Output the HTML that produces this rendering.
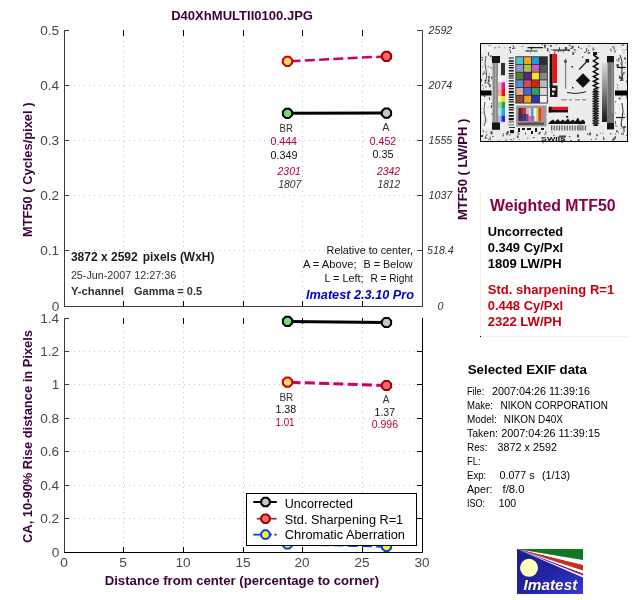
<!DOCTYPE html>
<html><head><meta charset="utf-8"><title>Imatest</title>
<style>
html,body{margin:0;padding:0;background:#fff;}
body{width:640px;height:600px;overflow:hidden;}
text{white-space:pre;}
svg{display:block;will-change:transform;font-family:"Liberation Sans",sans-serif;}
.ax{stroke:#3c3c3c;stroke-width:1;fill:none;shape-rendering:crispEdges;}
.bk{stroke:#000;stroke-width:1;fill:none;shape-rendering:crispEdges;}
.grid{stroke:#c4c4c4;stroke-width:1;stroke-dasharray:1 4;fill:none;shape-rendering:crispEdges;}
.tl{font-size:13.6px;fill:#484848;}
.rl{font-size:10.67px;fill:#303030;font-style:italic;text-anchor:middle;}
.pl{font-weight:bold;fill:#3d003d;}
</style></head><body>
<svg width="640" height="600" viewBox="0 0 640 600">
<rect width="640" height="600" fill="#fff"/>

<g class="grid">
<path d="M123.5 31V306" />
<path d="M123.5 322V552" />
<path d="M183.5 31V306" />
<path d="M183.5 322V552" />
<path d="M243.5 31V306" />
<path d="M243.5 322V552" />
<path d="M302.5 31V306" />
<path d="M302.5 322V552" />
<path d="M362.5 31V306" />
<path d="M362.5 322V552" />
<path d="M64 250.5H422" />
<path d="M64 195.5H422" />
<path d="M64 140.5H422" />
<path d="M64 85.5H422" />
<path d="M64 518.5H422" />
<path d="M64 485.5H422" />
<path d="M64 451.5H422" />
<path d="M64 418.5H422" />
<path d="M64 384.5H422" />
<path d="M64 351.5H422" />
</g>
<g class="ax">
<path d="M64.5 30V307 M64 306.5H423 M422.5 30V307"/>
<path d="M64 306.5H69 M417 306.5H423"/>
<path d="M64 250.5H69 M417 250.5H423"/>
<path d="M64 195.5H69 M417 195.5H423"/>
<path d="M64 140.5H69 M417 140.5H423"/>
<path d="M64 85.5H69 M417 85.5H423"/>
<path d="M64 30.5H69 M417 30.5H423"/>
</g>
<g class="bk">
<path d="M123.5 30V36 M123.5 301V307"/>
<path d="M183.5 30V36 M183.5 301V307"/>
<path d="M243.5 30V36 M243.5 301V307"/>
<path d="M302.5 30V36 M302.5 301V307"/>
<path d="M362.5 30V36 M362.5 301V307"/>
</g>
<g class="ax">
<path d="M64.5 318V553"/>
<path d="M64 552.5H69"/>
<path d="M64 518.5H69"/>
<path d="M64 485.5H69"/>
<path d="M64 451.5H69"/>
<path d="M64 418.5H69"/>
<path d="M64 384.5H69"/>
<path d="M64 351.5H69"/>
<path d="M64 318.5H69"/>
</g>
<g class="bk">
<path d="M64 552.5H423 M422.5 318V553"/>
<path d="M417 518.5H423"/>
<path d="M417 485.5H423"/>
<path d="M417 451.5H423"/>
<path d="M417 418.5H423"/>
<path d="M417 384.5H423"/>
<path d="M417 351.5H423"/>
<path d="M123.5 318V324 M123.5 547V553"/>
<path d="M183.5 318V324 M183.5 547V553"/>
<path d="M243.5 318V324 M243.5 547V553"/>
<path d="M302.5 318V324 M302.5 547V553"/>
<path d="M362.5 318V324 M362.5 547V553"/>
</g>
<g class="tl" text-anchor="end">
<text x="59.2" y="311.1">0</text>
<text x="59.2" y="255.1">0.1</text>
<text x="59.2" y="200.1">0.2</text>
<text x="59.2" y="145.1">0.3</text>
<text x="59.2" y="90.1">0.4</text>
<text x="59.2" y="35.1">0.5</text>
<text x="59.2" y="557.1">0</text>
<text x="59.2" y="523.1">0.2</text>
<text x="59.2" y="490.1">0.4</text>
<text x="59.2" y="456.1">0.6</text>
<text x="59.2" y="423.1">0.8</text>
<text x="59.2" y="389.1">1</text>
<text x="59.2" y="356.1">1.2</text>
<text x="59.2" y="323.1">1.4</text>
</g>
<g class="tl" text-anchor="middle">
<text x="64.0" y="567.4">0</text>
<text x="123.0" y="567.4">5</text>
<text x="183.0" y="567.4">10</text>
<text x="243.0" y="567.4">15</text>
<text x="302.0" y="567.4">20</text>
<text x="362.0" y="567.4">25</text>
<text x="422.0" y="567.4">30</text>
</g>
<g class="rl">
<text x="440.4" y="309.9">0</text>
<text x="440.4" y="253.9">518.4</text>
<text x="440.4" y="198.9">1037</text>
<text x="440.4" y="143.9">1555</text>
<text x="440.4" y="88.9">2074</text>
<text x="440.4" y="33.9">2592</text>
</g>
<g class="pl" font-size="13.33" text-anchor="middle">
<text x="242.1" y="20" textLength="141.8" lengthAdjust="spacingAndGlyphs">D40XhMULTII0100.JPG</text>
<text transform="translate(32,169.8) rotate(-90)" textLength="134.4" lengthAdjust="spacingAndGlyphs">MTF50 ( Cycles/pixel )</text>
<text transform="translate(467,169.4) rotate(-90)" textLength="101.2" lengthAdjust="spacingAndGlyphs">MTF50 ( LW/PH )</text>
<text transform="translate(32,436.5) rotate(-90)" textLength="213" lengthAdjust="spacingAndGlyphs">CA, 10-90% Rise distance in Pixels</text>
<text x="241.9" y="585" textLength="274.4" lengthAdjust="spacingAndGlyphs">Distance from center (percentage to corner)</text>
</g>
<path d="M287.5 61.3L386.5 56.4" stroke="#cc0066" stroke-width="2.5" stroke-dasharray="10 4.3" stroke-dashoffset="-3" fill="none"/>
<path d="M287.5 113.3L386.5 113.1" stroke="#000" stroke-width="3" fill="none"/>
<polygon points="292.10,63.21 289.41,65.90 285.59,65.90 282.90,63.21 282.90,59.39 285.59,56.70 289.41,56.70 292.10,59.39" fill="#f0d868" stroke="#cc0000" stroke-width="2" stroke-linejoin="round"/>
<polygon points="391.10,58.31 388.41,61.00 384.59,61.00 381.90,58.31 381.90,54.49 384.59,51.80 388.41,51.80 391.10,54.49" fill="#ff6868" stroke="#a00000" stroke-width="2" stroke-linejoin="round"/>
<polygon points="292.10,115.21 289.41,117.90 285.59,117.90 282.90,115.21 282.90,111.39 285.59,108.70 289.41,108.70 292.10,111.39" fill="#70dc70" stroke="#000" stroke-width="2" stroke-linejoin="round"/>
<polygon points="391.10,115.01 388.41,117.70 384.59,117.70 381.90,115.01 381.90,111.19 384.59,108.50 388.41,108.50 391.10,111.19" fill="#c8c8c8" stroke="#000" stroke-width="2" stroke-linejoin="round"/>
<g font-size="10" fill="#303030">
<text x="279.5" y="131.6" textLength="13.4" lengthAdjust="spacingAndGlyphs" >BR</text>
<text x="382.2" y="130.7" textLength="7.2" lengthAdjust="spacingAndGlyphs" >A</text>
</g>
<g font-size="10.67">
<text x="270.5" y="144.6" textLength="26.5" lengthAdjust="spacingAndGlyphs" fill="#b4002c">0.444</text>
<text x="270.5" y="158.6" textLength="26.9" lengthAdjust="spacingAndGlyphs" fill="#101010">0.349</text>
<text x="369.7" y="144.6" textLength="26.5" lengthAdjust="spacingAndGlyphs" fill="#b4002c">0.452</text>
<text x="372.5" y="157.8" textLength="21.0" lengthAdjust="spacingAndGlyphs" fill="#101010">0.35</text>
</g>
<g font-size="10.67" font-style="italic">
<text x="277.6" y="174.5" textLength="23.1" lengthAdjust="spacingAndGlyphs" fill="#b4002c">2301</text>
<text x="278.2" y="187.6" textLength="23.2" lengthAdjust="spacingAndGlyphs" fill="#303030">1807</text>
<text x="376.9" y="174.5" textLength="23.1" lengthAdjust="spacingAndGlyphs" fill="#b4002c">2342</text>
<text x="377.5" y="187.6" textLength="22.7" lengthAdjust="spacingAndGlyphs" fill="#303030">1812</text>
</g>
<g font-size="12" font-weight="bold" fill="#1a1a1a">
<text x="70.9" y="261.0" textLength="66.8" lengthAdjust="spacingAndGlyphs" >3872 x 2592</text>
<text x="142.7" y="261.0" textLength="71.7" lengthAdjust="spacingAndGlyphs" >pixels (WxH)</text>
</g>
<g font-size="10.67" fill="#303030">
<text x="70.9" y="279.0" textLength="105.3" lengthAdjust="spacingAndGlyphs" >25-Jun-2007 12:27:36</text>
</g>
<g font-size="10.67" font-weight="bold" fill="#303030">
<text x="70.9" y="294.7" textLength="53.1" lengthAdjust="spacingAndGlyphs" >Y-channel</text>
<text x="134" y="294.7" textLength="68.1" lengthAdjust="spacingAndGlyphs" >Gamma = 0.5</text>
</g>
<g font-size="10.67" fill="#101010">
<text x="326.6" y="253.8" textLength="86.5" lengthAdjust="spacingAndGlyphs" >Relative to center,</text>
<text x="302.9" y="267.8" textLength="53.7" lengthAdjust="spacingAndGlyphs" >A = Above;</text>
<text x="363.5" y="267.8" textLength="49.0" lengthAdjust="spacingAndGlyphs" >B = Below</text>
<text x="324.5" y="281.9" textLength="39.0" lengthAdjust="spacingAndGlyphs" >L = Left;</text>
<text x="370.4" y="281.9" textLength="42.5" lengthAdjust="spacingAndGlyphs" >R = Right</text>
</g>
<g font-size="13.33" font-weight="bold" font-style="italic" fill="#0000c8">
<text x="306" y="298.5" textLength="108.0" lengthAdjust="spacingAndGlyphs" >Imatest 2.3.10 Pro</text>
</g>
<path d="M287.5 544L386.5 546.4" stroke="#0040ff" stroke-width="2.5" stroke-dasharray="10 4.3" stroke-dashoffset="-3" fill="none"/>
<polygon points="292.10,545.91 289.41,548.60 285.59,548.60 282.90,545.91 282.90,542.09 285.59,539.40 289.41,539.40 292.10,542.09" fill="#ffff00" stroke="#0040ff" stroke-width="2" stroke-linejoin="round"/>
<polygon points="391.10,548.31 388.41,551.00 384.59,551.00 381.90,548.31 381.90,544.49 384.59,541.80 388.41,541.80 391.10,544.49" fill="#ffff00" stroke="#0040ff" stroke-width="2" stroke-linejoin="round"/>
<path d="M287.5 321.4L386.5 322.5" stroke="#000" stroke-width="3" fill="none"/>
<path d="M287.5 382.2L386.5 385.5" stroke="#cc0066" stroke-width="3" stroke-dasharray="10 4.3" stroke-dashoffset="-3" fill="none"/>
<polygon points="292.10,323.31 289.41,326.00 285.59,326.00 282.90,323.31 282.90,319.49 285.59,316.80 289.41,316.80 292.10,319.49" fill="#70e070" stroke="#000" stroke-width="2" stroke-linejoin="round"/>
<polygon points="391.10,324.41 388.41,327.10 384.59,327.10 381.90,324.41 381.90,320.59 384.59,317.90 388.41,317.90 391.10,320.59" fill="#c8c8c8" stroke="#000" stroke-width="2" stroke-linejoin="round"/>
<polygon points="292.10,384.11 289.41,386.80 285.59,386.80 282.90,384.11 282.90,380.29 285.59,377.60 289.41,377.60 292.10,380.29" fill="#f0d868" stroke="#cc0000" stroke-width="2" stroke-linejoin="round"/>
<polygon points="391.10,387.41 388.41,390.10 384.59,390.10 381.90,387.41 381.90,383.59 384.59,380.90 388.41,380.90 391.10,383.59" fill="#ff6868" stroke="#a00000" stroke-width="2" stroke-linejoin="round"/>
<g text-anchor="middle" font-size="10" fill="#303030">
<text x="286.4" y="400.7">BR</text>
<text x="386" y="403.4">A</text>
</g>
<g font-size="10.67">
<text x="275.5" y="413.4" textLength="20.7" lengthAdjust="spacingAndGlyphs" fill="#101010">1.38</text>
<text x="275.5" y="425.5" textLength="19.0" lengthAdjust="spacingAndGlyphs" fill="#b4002c">1.01</text>
<text x="374.6" y="416.1" textLength="20.4" lengthAdjust="spacingAndGlyphs" fill="#101010">1.37</text>
<text x="371.7" y="428.1" textLength="26.3" lengthAdjust="spacingAndGlyphs" fill="#b4002c">0.996</text>
</g>
<rect x="246.5" y="493.5" width="170" height="52" fill="#fff" stroke="#000" stroke-width="1" shape-rendering="crispEdges"/>
<path d="M253.3 502H276.7" stroke="#000" stroke-width="2" fill="none" />
<polygon points="269.75,503.76 267.26,506.25 263.74,506.25 261.25,503.76 261.25,500.24 263.74,497.75 267.26,497.75 269.75,500.24" fill="#c8c8c8" stroke="#000" stroke-width="2" stroke-linejoin="round"/>
<text x="284.8" y="507.5" textLength="68.2" lengthAdjust="spacingAndGlyphs" font-size="13.33" fill="#000">Uncorrected</text>
<path d="M256.9 518.7H276.7" stroke="#c00060" stroke-width="1.6" fill="none" />
<polygon points="269.75,520.46 267.26,522.95 263.74,522.95 261.25,520.46 261.25,516.94 263.74,514.45 267.26,514.45 269.75,516.94" fill="#ff7070" stroke="#a00000" stroke-width="2" stroke-linejoin="round"/>
<text x="284.8" y="523.6" textLength="118.4" lengthAdjust="spacingAndGlyphs" font-size="13.33" fill="#000">Std. Sharpening R=1</text>
<path d="M253.3 534.6H276.7" stroke="#0040ff" stroke-width="1.8" fill="none" stroke-dasharray="18.5 2.5"/>
<polygon points="269.75,536.36 267.26,538.85 263.74,538.85 261.25,536.36 261.25,532.84 263.74,530.35 267.26,530.35 269.75,532.84" fill="#ffff00" stroke="#0040ff" stroke-width="2" stroke-linejoin="round"/>
<text x="284.8" y="539.3" textLength="120.2" lengthAdjust="spacingAndGlyphs" font-size="13.33" fill="#000">Chromatic Aberration</text>
<path d="M480.5 192V336 M481 336.5H628" stroke="#f5eeea" stroke-width="1" fill="none" shape-rendering="crispEdges"/>
<rect x="480" y="336" width="1" height="1" fill="#000" shape-rendering="crispEdges"/>
<g font-size="16" font-weight="bold" fill="#880044">
<text x="490" y="211.3" textLength="125.5" lengthAdjust="spacingAndGlyphs" >Weighted MTF50</text>
</g>
<g font-size="13.33" font-weight="bold" fill="#000">
<text x="487.7" y="235.7" textLength="75.5" lengthAdjust="spacingAndGlyphs" >Uncorrected</text>
<text x="487.7" y="251.7" textLength="75.5" lengthAdjust="spacingAndGlyphs" >0.349 Cy/Pxl</text>
<text x="487.7" y="267.9" textLength="74.0" lengthAdjust="spacingAndGlyphs" >1809 LW/PH</text>
</g>
<g font-size="13.33" font-weight="bold" fill="#c40010">
<text x="487.7" y="293.7" textLength="126.5" lengthAdjust="spacingAndGlyphs" >Std. sharpening R=1</text>
<text x="487.7" y="309.6" textLength="75.5" lengthAdjust="spacingAndGlyphs" >0.448 Cy/Pxl</text>
<text x="487.7" y="325.7" textLength="74.0" lengthAdjust="spacingAndGlyphs" >2322 LW/PH</text>
</g>
<text x="467.7" y="373.7" textLength="119.2" lengthAdjust="spacingAndGlyphs" font-size="13.33" font-weight="bold" fill="#000">Selected EXIF data</text>
<g font-size="10.67" fill="#000">
<text x="467" y="394.9" textLength="17.2" lengthAdjust="spacingAndGlyphs" >File:</text>
<text x="492" y="394.9" textLength="98.0" lengthAdjust="spacingAndGlyphs" >2007:04:26 11:39:16</text>
<text x="467" y="408.9" textLength="26.0" lengthAdjust="spacingAndGlyphs" >Make:</text>
<text x="500.5" y="408.9" textLength="107.5" lengthAdjust="spacingAndGlyphs" >NIKON CORPORATION</text>
<text x="467" y="422.8" textLength="29.7" lengthAdjust="spacingAndGlyphs" >Model:</text>
<text x="503.7" y="422.8" textLength="59.3" lengthAdjust="spacingAndGlyphs" >NIKON D40X</text>
<text x="467" y="436.8" textLength="31.0" lengthAdjust="spacingAndGlyphs" >Taken:</text>
<text x="501.2" y="436.8" textLength="98.8" lengthAdjust="spacingAndGlyphs" >2007:04:26 11:39:15</text>
<text x="467" y="450.8" textLength="20.5" lengthAdjust="spacingAndGlyphs" >Res:</text>
<text x="497.5" y="450.8" textLength="59.5" lengthAdjust="spacingAndGlyphs" >3872 x 2592</text>
<text x="467" y="464.8" textLength="13.5" lengthAdjust="spacingAndGlyphs" >FL:</text>
<text x="467" y="478.7" textLength="19.2" lengthAdjust="spacingAndGlyphs" >Exp:</text>
<text x="499.5" y="478.7" textLength="35.0" lengthAdjust="spacingAndGlyphs" >0.077 s</text>
<text x="542" y="478.7" textLength="28.0" lengthAdjust="spacingAndGlyphs" >(1/13)</text>
<text x="467" y="492.7" textLength="25.5" lengthAdjust="spacingAndGlyphs" >Aper:</text>
<text x="502.5" y="492.7" textLength="22.0" lengthAdjust="spacingAndGlyphs" >f/8.0</text>
<text x="467" y="506.7" textLength="18.0" lengthAdjust="spacingAndGlyphs" >ISO:</text>
<text x="498.7" y="506.7" textLength="17.5" lengthAdjust="spacingAndGlyphs" >100</text>
</g>
<g id="thumb">
<rect x="480.5" y="43.5" width="147" height="98" fill="#ececec" stroke="#000" stroke-width="1" shape-rendering="crispEdges"/>
<path d="M619.4 47.2h0.8v0.8h-0.8zM485.0 50.5h2v1h-2zM481.9 84.7h1v0.8h-1zM489.6 136.7h1v3h-1zM487.3 82.7h1v0.8h-1zM618.5 58.7h0.8v3h-0.8zM562.8 49.5h0.8v3h-0.8zM619.5 97.0h0.8v3h-0.8zM487.8 92.2h2v2h-2zM549.0 51.4h1v1h-1zM624.5 111.4h1v0.8h-1zM557.7 51.0h1.5v1h-1.5zM482.3 84.7h1v1h-1zM542.6 140.6h0.8v3h-0.8zM530.7 46.8h1.5v3h-1.5zM491.0 131.9h1v2h-1zM481.7 111.6h2v2h-2zM585.6 51.1h1v0.8h-1zM532.9 137.1h1.5v0.8h-1.5zM624.2 57.3h1v2h-1zM614.9 136.0h1v2h-1zM561.2 139.8h1.5v3h-1.5zM584.1 51.9h1.5v1h-1.5zM616.0 59.4h1v0.8h-1zM602.3 132.8h1v0.8h-1zM620.0 80.1h2v1h-2zM623.3 94.0h2v0.8h-2zM612.3 138.8h2v2h-2zM539.3 132.0h1.5v0.8h-1.5zM615.8 64.8h1v0.8h-1zM568.7 44.8h2v1h-2zM491.4 103.3h0.8v1h-0.8zM502.7 133.5h1v3h-1zM550.2 44.9h1.5v2h-1.5zM551.6 131.9h0.8v1h-0.8zM550.9 49.5h2v0.8h-2zM626.4 95.2h1v3h-1zM489.3 73.3h0.8v1h-0.8zM613.6 46.8h1v3h-1zM573.9 48.9h1v1h-1zM589.0 133.3h2v2h-2zM587.7 51.9h1v2h-1zM509.3 48.8h1v2h-1zM620.4 46.9h1v0.8h-1zM620.6 77.1h1.5v3h-1.5zM486.3 107.0h0.8v0.8h-0.8zM595.2 138.5h1.5v1h-1.5zM596.2 134.3h1.5v2h-1.5zM589.5 131.8h1v1h-1zM615.3 101.1h1.5v1h-1.5zM577.0 134.5h2v3h-2zM615.3 120.9h0.8v3h-0.8zM620.2 127.8h1v0.8h-1zM512.1 48.0h2v1h-2zM560.5 50.7h0.8v1h-0.8zM577.7 139.2h2v2h-2zM621.4 94.7h0.8v2h-0.8zM622.3 118.7h1v1h-1zM620.7 113.9h2v0.8h-2zM580.6 48.2h1.5v0.8h-1.5zM483.7 71.3h0.8v3h-0.8zM563.0 138.6h0.8v2h-0.8zM570.4 48.0h2v1h-2zM547.0 48.3h1.5v3h-1.5zM623.4 128.3h1v3h-1zM625.1 58.0h0.8v2h-0.8zM527.1 137.7h1.5v0.8h-1.5zM623.0 119.5h1v1h-1zM618.0 58.0h1.5v1h-1.5zM485.4 91.3h1v1h-1zM626.1 135.0h1.5v1h-1.5zM527.5 49.8h0.8v1h-0.8zM545.3 131.2h1v3h-1zM555.8 44.5h1v0.8h-1zM483.9 48.8h1v1h-1zM624.8 125.7h1v2h-1zM621.4 93.9h1.5v1h-1.5zM484.1 121.0h1v2h-1zM484.0 46.6h0.8v1h-0.8zM487.7 66.1h1v0.8h-1zM482.7 140.9h1.5v1h-1.5zM615.5 112.4h0.8v1h-0.8zM488.4 45.6h1v1h-1zM618.5 92.5h1v1h-1zM598.3 52.0h0.8v0.8h-0.8zM489.1 97.3h1v3h-1zM516.9 135.5h1.5v2h-1.5zM622.7 134.1h1v1h-1zM510.0 51.1h1v2h-1zM624.4 50.7h0.8v0.8h-0.8zM543.9 44.4h1.5v3h-1.5zM568.4 49.5h0.8v2h-0.8zM616.9 87.4h1v1h-1zM623.0 48.4h1v0.8h-1zM512.8 45.5h1v2h-1zM486.2 92.8h1v1h-1zM482.0 122.6h1v2h-1zM485.3 73.5h1v0.8h-1zM622.9 113.0h2v2h-2zM586.2 48.0h1v3h-1zM615.5 124.4h2v2h-2zM625.9 116.5h2v0.8h-2zM616.0 49.0h1v0.8h-1zM603.0 136.6h0.8v3h-0.8zM620.9 45.3h0.8v3h-0.8zM488.3 51.3h1.5v1h-1.5zM490.3 67.3h1v1h-1zM553.1 134.8h1.5v1h-1.5zM487.8 106.1h0.8v3h-0.8zM619.0 106.9h1v3h-1zM615.1 50.8h1v0.8h-1zM623.1 72.6h2v1h-2zM549.0 138.7h2v1h-2zM623.8 51.5h0.8v1h-0.8zM492.2 136.1h1.5v1h-1.5zM511.6 140.5h1v0.8h-1zM482.6 94.8h1v1h-1zM610.5 49.6h1v2h-1zM538.5 132.6h1.5v2h-1.5zM525.1 132.4h1v2h-1zM498.7 46.7h1v1h-1zM498.5 140.3h0.8v1h-0.8zM535.3 47.1h2v0.8h-2zM616.1 50.0h0.8v1h-0.8zM481.6 107.9h1v1h-1zM544.7 46.5h1v2h-1zM489.9 104.9h2v3h-2zM623.6 49.7h1.5v2h-1.5zM622.7 72.2h0.8v3h-0.8zM617.0 84.4h1v1h-1zM588.9 51.8h1v2h-1zM618.6 97.9h1.5v0.8h-1.5zM622.7 52.1h2v2h-2zM620.4 76.6h1.5v2h-1.5zM621.6 68.2h1v1h-1zM484.5 80.0h2v1h-2zM489.2 84.2h1.5v3h-1.5zM619.5 77.1h0.8v2h-0.8zM564.8 46.9h2v3h-2zM616.1 130.2h1.5v2h-1.5zM544.0 134.1h0.8v1h-0.8zM485.7 117.6h1.5v3h-1.5zM481.0 134.9h2v2h-2zM517.3 132.1h1v1h-1zM491.4 113.6h1.5v0.8h-1.5zM481.0 56.9h2v0.8h-2zM621.5 49.0h2v2h-2zM482.1 73.5h2v1h-2zM519.1 138.9h0.8v0.8h-0.8zM626.5 46.2h1v1h-1zM557.8 136.5h0.8v2h-0.8zM489.1 45.6h1.5v0.8h-1.5zM514.3 47.4h1v1h-1zM486.0 134.4h1.5v1h-1.5zM509.9 139.0h2v0.8h-2zM620.9 64.0h1v1h-1zM513.3 138.6h1v0.8h-1zM570.1 140.0h1.5v2h-1.5zM491.4 58.9h1.5v0.8h-1.5zM615.3 101.6h1.5v0.8h-1.5zM483.0 87.7h1v0.8h-1zM491.2 76.3h1v3h-1zM485.7 137.6h1.5v1h-1.5zM545.6 44.9h0.8v1h-0.8zM484.9 135.8h0.8v3h-0.8zM619.6 118.0h1v2h-1zM481.5 90.0h1v3h-1zM509.2 134.6h1.5v0.8h-1.5zM517.2 137.3h1.5v0.8h-1.5zM486.1 131.6h0.8v1h-0.8zM624.0 130.4h1v1h-1zM529.9 51.6h0.8v1h-0.8zM615.9 46.4h2v0.8h-2zM490.1 55.2h1.5v2h-1.5zM614.4 50.5h1v2h-1zM615.1 133.5h1v1h-1zM618.9 75.4h1v3h-1zM486.6 82.2h1v1h-1zM490.5 131.3h2v3h-2zM504.5 47.4h0.8v0.8h-0.8zM572.2 45.7h1.5v2h-1.5zM506.3 132.3h1.5v3h-1.5zM624.0 125.5h0.8v1h-0.8zM521.8 46.1h1v1h-1zM620.3 62.6h1v1h-1zM610.1 48.6h1v0.8h-1zM517.7 133.5h2v1h-2zM488.2 139.1h0.8v0.8h-0.8zM609.9 133.3h1.5v1h-1.5zM490.6 67.1h0.8v1h-0.8zM626.2 80.4h1v2h-1zM594.1 49.3h0.8v0.8h-0.8zM512.8 46.9h1v0.8h-1zM627.0 48.6h1v0.8h-1zM540.7 47.0h2v1h-2zM483.2 120.6h2v2h-2zM485.5 120.6h2v1h-2zM488.2 82.8h1v2h-1zM578.5 47.3h0.8v1h-0.8zM541.5 44.1h1v1h-1zM587.3 133.0h0.8v2h-0.8zM620.1 122.9h1.5v3h-1.5zM548.3 45.3h0.8v0.8h-0.8zM622.7 131.4h0.8v3h-0.8zM588.6 45.4h1v1h-1zM621.3 132.9h0.8v2h-0.8zM591.0 138.9h1v1h-1zM625.0 49.1h1.5v1h-1.5zM487.7 105.5h0.8v3h-0.8zM622.7 126.4h2v2h-2zM625.0 62.4h1v0.8h-1zM618.0 132.6h1v0.8h-1zM618.0 113.9h1v0.8h-1zM488.3 75.8h1.5v3h-1.5zM561.3 137.3h1v2h-1zM566.1 47.4h1v2h-1zM507.1 131.0h1.5v2h-1.5zM620.4 103.8h1.5v1h-1.5zM539.4 131.7h1v2h-1zM494.4 47.5h2v0.8h-2zM488.0 52.8h1v3h-1zM481.6 92.9h1.5v1h-1.5zM490.4 139.6h0.8v1h-0.8zM626.8 91.7h1v1h-1zM490.2 103.0h1v1h-1zM611.9 46.2h1.5v1h-1.5zM554.3 51.4h1v3h-1zM570.9 45.9h1v0.8h-1zM617.2 60.3h1v1h-1zM505.6 138.8h0.8v3h-0.8zM488.0 79.2h1.5v3h-1.5zM483.8 95.9h1.5v1h-1.5zM535.9 47.0h1v1h-1zM592.6 47.5h1v3h-1zM484.3 94.0h1v3h-1zM588.0 50.0h1v1h-1zM570.9 47.5h2v1h-2zM482.5 66.6h0.8v0.8h-0.8zM481.0 78.7h0.8v3h-0.8zM559.0 47.3h1v3h-1zM617.5 104.3h1.5v1h-1.5zM615.2 121.1h1v2h-1zM481.7 58.7h1v2h-1zM622.2 44.4h2v1h-2zM568.9 136.2h1.5v1h-1.5zM625.8 49.2h2v0.8h-2zM508.1 132.6h0.8v0.8h-0.8zM616.7 64.0h2v3h-2zM599.8 132.7h1v0.8h-1zM572.4 52.0h1.5v3h-1.5zM485.1 86.5h1.5v0.8h-1.5zM506.6 141.0h1v1h-1zM482.4 129.7h1v0.8h-1zM573.8 49.4h2v1h-2zM574.7 51.7h1v0.8h-1zM482.9 130.9h1v1h-1zM509.0 47.1h2v1h-2zM613.5 137.3h2v2h-2zM603.6 138.0h0.8v2h-0.8zM621.8 74.2h1v2h-1z" fill="#1a1a1a" opacity="0.8"/>
<path d="M482 46h10v6h-10z M616 46h10v8h-10z M482 100h9v28h-9z M616 100h10v26h-10z" fill="#f8f8f8" opacity="0.8"/>
<rect x="481" y="90.5" width="10.5" height="5" fill="#000"/>
<rect x="615" y="90.5" width="12" height="5" fill="#000"/>
<rect x="492" y="56" width="8" height="7" fill="#151515"/>
<rect x="492.5" y="63" width="5.5" height="59.5" fill="#8c8c8c"/>
<rect x="495" y="63" width="1.2" height="59.5" fill="#b8b8b8" opacity="0.7"/>
<rect x="492" y="122.4" width="8" height="7.4" fill="#151515"/>
<rect x="501" y="63" width="4" height="12.5" fill="#303030"/>
<rect x="498" y="75.5" width="7" height="7" fill="#f6f2f2"/>
<rect x="498" y="82.4" width="3.5" height="6.6" fill="#f0b0c8"/>
<rect x="501.5" y="82.4" width="3.5" height="6.6" fill="#d81890"/>
<rect x="498" y="89" width="3.5" height="7.0" fill="#f4a8a0"/>
<rect x="501.5" y="89" width="3.5" height="7.0" fill="#e81010"/>
<rect x="498" y="96" width="3.5" height="5.8" fill="#f8f0a0"/>
<rect x="501.5" y="96" width="3.5" height="5.8" fill="#f0e020"/>
<rect x="498" y="101.8" width="3.5" height="6.8" fill="#a0d8a0"/>
<rect x="501.5" y="101.8" width="3.5" height="6.8" fill="#20a040"/>
<rect x="498" y="108.6" width="3.5" height="6.9" fill="#b0e0f8"/>
<rect x="501.5" y="108.6" width="3.5" height="6.9" fill="#10b0f0"/>
<rect x="498" y="115.5" width="3.5" height="6.3" fill="#b0b0e8"/>
<rect x="501.5" y="115.5" width="3.5" height="6.3" fill="#2828c8"/>
<path d="M508.8 57.4h5v1.2h-5zM508.8 60.2h5v1.5h-5zM508.8 62.7h5v1.2h-5zM508.8 64.9h5v1.2h-5zM508.8 67.1h5v1.5h-5zM508.8 69.9h5v1.5h-5zM508.8 73.0h5v1.2h-5zM508.8 75.2h5v1.2h-5zM508.8 77.4h5v1.2h-5zM508.8 80.2h5v1.2h-5zM508.8 83.0h5v1.2h-5zM508.8 85.2h5v1.8h-5zM508.8 88.0h5v1.2h-5zM508.8 90.8h5v2.2h-5zM508.8 94.0h5v1.5h-5zM508.8 96.5h5v1.5h-5zM508.8 99.0h5v1.2h-5zM508.8 101.2h5v1.2h-5zM508.8 104.0h5v1.8h-5zM508.8 107.1h5v1.2h-5zM508.8 109.3h5v1.2h-5zM508.8 112.1h5v1.5h-5zM508.8 114.9h5v1.8h-5zM508.8 118.0h5v2.2h-5zM508.8 121.5h5v1.2h-5zM508.8 124.0h5v1.8h-5z" fill="#101010"/>
<rect x="508.8" y="122" width="5" height="4" fill="#d0d0d0" opacity="0.8"/>
<rect x="515.4" y="56.3" width="32.4" height="47.2" fill="#2c2c2c"/>
<rect x="516.2" y="57.2" width="7" height="6.9" fill="#48c8c8"/>
<rect x="524.1" y="57.2" width="7" height="6.9" fill="#f0a820"/>
<rect x="532.0" y="57.2" width="7" height="6.9" fill="#10a0e0"/>
<rect x="539.9" y="57.2" width="7" height="6.9" fill="#2e2e2e"/>
<rect x="516.2" y="64.9" width="7" height="6.9" fill="#9494d4"/>
<rect x="524.1" y="64.9" width="7" height="6.9" fill="#a4c840"/>
<rect x="532.0" y="64.9" width="7" height="6.9" fill="#d058c4"/>
<rect x="539.9" y="64.9" width="7" height="6.9" fill="#50585c"/>
<rect x="516.2" y="72.6" width="7" height="6.9" fill="#507c34"/>
<rect x="524.1" y="72.6" width="7" height="6.9" fill="#5c2878"/>
<rect x="532.0" y="72.6" width="7" height="6.9" fill="#f8e028"/>
<rect x="539.9" y="72.6" width="7" height="6.9" fill="#848888"/>
<rect x="516.2" y="80.3" width="7" height="6.9" fill="#5090d0"/>
<rect x="524.1" y="80.3" width="7" height="6.9" fill="#d84458"/>
<rect x="532.0" y="80.3" width="7" height="6.9" fill="#d02414"/>
<rect x="539.9" y="80.3" width="7" height="6.9" fill="#b8b8b8"/>
<rect x="516.2" y="88.0" width="7" height="6.9" fill="#dca898"/>
<rect x="524.1" y="88.0" width="7" height="6.9" fill="#4864d4"/>
<rect x="532.0" y="88.0" width="7" height="6.9" fill="#30a054"/>
<rect x="539.9" y="88.0" width="7" height="6.9" fill="#d8dcdc"/>
<rect x="516.2" y="95.7" width="7" height="6.9" fill="#8c4c3c"/>
<rect x="524.1" y="95.7" width="7" height="6.9" fill="#f0a020"/>
<rect x="532.0" y="95.7" width="7" height="6.9" fill="#3030c0"/>
<rect x="539.9" y="95.7" width="7" height="6.9" fill="#f2f2f2"/>
<rect x="516" y="105.5" width="30.5" height="21" fill="#a09898"/>
<rect x="518.5" y="108" width="2.5" height="13" fill="#602020"/>
<rect x="521.0" y="108" width="2.5" height="13" fill="#a02030"/>
<rect x="523.5" y="108" width="2.5" height="13" fill="#c03040"/>
<rect x="526.0" y="108" width="2.5" height="13" fill="#e0b0b0"/>
<rect x="528.5" y="108" width="2.5" height="13" fill="#f0d0d0"/>
<rect x="531.0" y="108" width="2.5" height="13" fill="#40a0e0"/>
<rect x="533.5" y="108" width="2.5" height="13" fill="#f0f0f0"/>
<rect x="536.0" y="108" width="2.5" height="13" fill="#e0e040"/>
<rect x="538.5" y="108" width="2.5" height="13" fill="#d04040"/>
<rect x="541.0" y="108" width="2.5" height="13" fill="#e08060"/>
<rect x="518.5" y="114" width="10" height="7" fill="#303080" opacity="0.75"/>
<rect x="528.5" y="116" width="6" height="5" fill="#d040a0" opacity="0.7"/>
<rect x="518" y="122.5" width="26" height="2.5" fill="#404040" opacity="0.8"/>
<rect x="509" y="127" width="6" height="1" fill="#303030"/>
<rect x="510" y="130" width="4" height="3.2" fill="#101010"/>
<path d="M518 128h2v4h-2z M522 128h3v2h-3z M527 128h4v2h-4z M535 128h2v4h-2z M541 128h3v2h-3z M531 131h2v3h-2z" fill="#181818"/>
<path d="M527.5 47h15.5v1.2h-15.5z M525.5 50.6h12v1h-12z" fill="#202020"/>
<path d="M553 49.5h17v1.2h-17z" fill="#202020"/>
<rect x="549.6" y="54" width="3" height="34" fill="#101010"/>
<rect x="552.6" y="54" width="4.4" height="29" fill="#f01010"/>
<rect x="550" y="85.5" width="7.5" height="11.5" fill="#181818"/>
<path d="M552 88h3.5v2.5h-3.5z M552 92.5h2v2.5h-2z" fill="#e8e8e8"/>
<rect x="548.8" y="106.8" width="19.2" height="3.2" fill="#f01010"/>
<rect x="548.8" y="106.8" width="2.6" height="5.6" fill="#101010"/>
<rect x="548.8" y="110" width="19.2" height="2.4" fill="#101010"/>
<rect x="565.2" y="58.6" width="0.9" height="30" fill="#606060"/>
<path d="M564 60h3v3h-3z" fill="#404040" opacity="0.7"/>
<path d="M567 92.5q8 2 16 0 l3 -1" stroke="#202020" stroke-width="1" fill="none"/>
<path d="M583 73.3L590.2 80.5L583 87.7L575.8 80.5z" fill="#101010"/>
<path d="M579.2 69.5L587.4 60.8" stroke="#181818" stroke-width="1.2" fill="none"/>
<path d="M585.5 59h3.6v3.6h-3.6z M571.5 66h1.5v1.5h-1.5z M578 46.5h1.2v1.2h-1.2z M572 87h1.4v1.4h-1.4z M582 56.5h1.2v1.2h-1.2z" fill="#181818"/>
<path d="M561 99h6v1.4h-6z M569 99h3v1.4h-3z M575 99h5v1.4h-5z M582 99h4v1.4h-4z" fill="#404040" opacity="0.45"/>
<path d="M550 121.5 l3 -2 2 2 3 -2.5 2 2.5 3 -2 2 2 3 -3 2 3 3 -2 2 2 3 -4 2 4 3 -2 2 2 v2.5h-37z" fill="#151515"/>
<path d="M551.0 125.5h1.3v5h-1.3zM553.6 125.5h1.3v5h-1.3zM556.2 125.5h1.3v5h-1.3zM558.8 125.5h1.3v5h-1.3zM561.4 125.5h1.3v5h-1.3zM564.0 125.5h1.3v5h-1.3zM566.6 125.5h1.3v5h-1.3zM569.2 125.5h1.3v5h-1.3zM571.8 125.5h1.3v5h-1.3zM574.4 125.5h1.3v5h-1.3zM577.0 125.5h1.3v5h-1.3zM579.6 125.5h1.3v5h-1.3zM582.2 125.5h1.3v5h-1.3zM584.8 125.5h1.3v5h-1.3z" fill="#303030" opacity="0.75"/>
<rect x="578" y="124.5" width="4" height="6" fill="#909090" opacity="0.8"/>
<path d="M566 116h2.2v1.6h-2.2z" fill="#181818"/>
<text x="541" y="140.6" font-size="6" font-weight="bold" fill="#181818" textLength="25" lengthAdjust="spacingAndGlyphs">SWIIS</text>
<rect x="559" y="135.6" width="7" height="1.2" fill="#181818"/>
<path d="M593.4 55 L598 58.0 L593.4 60.9 L598 63.7 L593.4 66.5 L598 69.1 L593.4 71.7 L598 74.2 L593.4 76.6 L598 79.0 L593.4 81.3 L598 83.5 L593.4 85.6 L598 87.7 L593.4 89.7" stroke="#111" stroke-width="1.5" fill="none"/>
<path d="M593.4 89.7 L598 91.4 L593.4 93.1 L598 94.8 L593.4 96.5 L598 98.2 L593.4 99.9 L598 101.6 L593.4 103.3 L598 105.0 L593.4 106.7 L598 108.4 L593.4 110.1 L598 111.8 L593.4 113.5 L598 115.2 L593.4 116.9 L598 118.6 L593.4 120.3 L598 122.0 L593.4 123.7 L598 125.4 M598 89.7 L593.4 91.4 L598 93.1 L593.4 94.8 L598 96.5 L593.4 98.2 L598 99.9 L593.4 101.6 L598 103.3 L593.4 105.0 L598 106.7 L593.4 108.4 L598 110.1 L593.4 111.8 L598 113.5 L593.4 115.2 L598 116.9 L593.4 118.6 L598 120.3 L593.4 122.0 L598 123.7 L593.4 125.4" stroke="#111" stroke-width="1.1" fill="none"/>
<rect x="593" y="52" width="4" height="3" fill="#111"/>
<rect x="607" y="56" width="7" height="6.6" fill="#151515"/>
<defs><linearGradient id="gs" x1="0" y1="0" x2="0" y2="1"><stop offset="0" stop-color="#dcdcdc"/><stop offset="0.45" stop-color="#888"/><stop offset="1" stop-color="#181818"/></linearGradient></defs>
<rect x="602" y="63" width="5.5" height="59" fill="url(#gs)"/>
<rect x="607.5" y="63" width="6.5" height="59" fill="#747474"/>
<rect x="611.5" y="63" width="1.5" height="50" fill="#9a9a9a" opacity="0.8"/>
<rect x="607" y="122.4" width="7" height="7" fill="#151515"/>
<path d="M620 55q3 6 2 12t1 14" stroke="#203040" stroke-width="1" fill="none"/>
<path d="M622 103q2 8 0 16t1 8" stroke="#203040" stroke-width="1" fill="none"/>
<path d="M617 67.5h9" stroke="#181818" stroke-width="1.2"/>
<path d="M616 117.5h9" stroke="#181818" stroke-width="1.2"/>
<path d="M486 56q-2 8 0 14t-1 14" stroke="#404850" stroke-width="0.9" fill="none"/>
<path d="M485 102q-2 8 0 14t-1 10" stroke="#404850" stroke-width="0.9" fill="none"/>
</g>
<g id="logo">
<defs><linearGradient id="lg" x1="0" y1="0" x2="1" y2="1"><stop offset="0" stop-color="#1c1c8c"/><stop offset="0.55" stop-color="#2424a4"/><stop offset="1" stop-color="#3838d0"/></linearGradient>
<clipPath id="lc"><rect x="517" y="549" width="66" height="45"/></clipPath></defs>
<rect x="517" y="549" width="66" height="45" fill="url(#lg)"/>
<g clip-path="url(#lc)">
<path d="M517 549H583V560z" fill="#107820"/>
<path d="M517 549L583 560V565.2z" fill="#ffffff"/>
<path d="M517 549L583 565.2V570.6z" fill="#d03010"/>
<path d="M517 549L583 570.6V573.8z" fill="#ffffff"/>
<path d="M517 549L583 573.8V575.4z" fill="#9010a0"/>
<path d="M517 549L583 575.4V577.6z" fill="#ffffff"/>
</g>
<circle cx="529" cy="567.8" r="9" fill="#ffffc0"/>
<text x="524.4" y="590.4" font-size="14.5" font-weight="bold" font-style="italic" fill="#101050" opacity="0.6" textLength="54" lengthAdjust="spacingAndGlyphs">Imatest</text>
<text x="523.4" y="589.7" font-size="14.5" font-weight="bold" font-style="italic" fill="#ffffff" textLength="54" lengthAdjust="spacingAndGlyphs">Imatest</text>
</g>
</svg></body></html>
